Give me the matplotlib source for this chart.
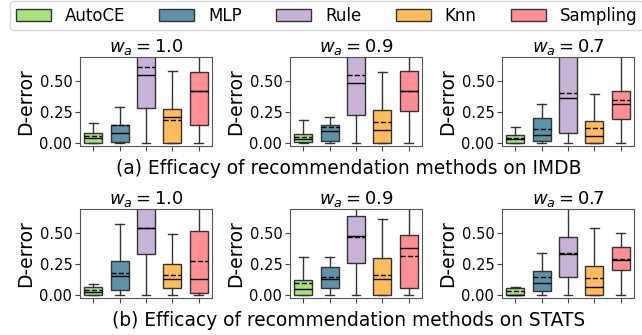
import matplotlib.pyplot as plt
from matplotlib.patches import Patch

methods = ["AutoCE", "MLP", "Rule", "Knn", "Sampling"]
colors = ["#a8e07c", "#5e92a8", "#c8b2d6", "#ffbb5c", "#ff8f94"]
weights = ["1.0", "0.9", "0.7"]

# per panel, per method: (whislo, q1, med, mean, q3, whishi)
imdb_10 = [(0, 0.0, 0.04, 0.05, 0.075, 0.16), (0, 0.005, 0.08, 0.145, 0.14, 0.29),
           (0, 0.28, 0.55, 0.61, 0.85, 1.0), (0, 0.0, 0.21, 0.185, 0.27, 0.585),
           (0, 0.145, 0.42, 0.42, 0.57, 0.95)]
imdb_09 = [(0, 0.005, 0.03, 0.045, 0.07, 0.18), (0, 0.015, 0.09, 0.13, 0.145, 0.205),
           (0, 0.22, 0.485, 0.545, 0.85, 1.0), (0, 0.0, 0.105, 0.17, 0.265, 0.575),
           (0, 0.26, 0.415, 0.415, 0.58, 0.95)]
imdb_07 = [(0, 0.0, 0.03, 0.035, 0.065, 0.125), (0, 0.015, 0.065, 0.11, 0.2, 0.31),
           (0, 0.075, 0.36, 0.405, 0.8, 1.0), (0, 0.0, 0.055, 0.115, 0.175, 0.395),
           (0, 0.195, 0.31, 0.345, 0.42, 0.9)]
stats_10 = [(0, 0.0, 0.02, 0.04, 0.065, 0.085), (0, 0.035, 0.15, 0.175, 0.27, 0.57),
            (0, 0.33, 0.54, 0.54, 0.85, 1.0), (0, 0.055, 0.13, 0.155, 0.245, 0.49),
            (0, 0.015, 0.125, 0.27, 0.52, 0.95)]
stats_09 = [(0, 0.0, 0.045, 0.09, 0.12, 0.305), (0, 0.05, 0.13, 0.145, 0.22, 0.305),
            (0, 0.26, 0.475, 0.47, 0.64, 0.95), (0, 0.0, 0.125, 0.16, 0.295, 0.61),
            (0, 0.055, 0.375, 0.315, 0.48, 0.95)]
stats_07 = [(0, 0.0, 0.0, 0.03, 0.05, 0.06), (0, 0.025, 0.09, 0.14, 0.19, 0.34),
            (0, 0.14, 0.33, 0.34, 0.47, 0.95), (0, 0.0, 0.065, 0.135, 0.23, 0.54),
            (0, 0.2, 0.28, 0.285, 0.39, 0.5)]

rows = [[imdb_10, imdb_09, imdb_07], [stats_10, stats_09, stats_07]]
captions = ["(a) Efficacy of recommendation methods on IMDB",
            "(b) Efficacy of recommendation methods on STATS"]

W, H = 642, 335
fig = plt.figure(figsize=(W / 100, H / 100), dpi=100)

lefts = [80, 290, 502]
tops = [57, 209]
aw, ah = 132, 89

for r, row in enumerate(rows):
    for c, panel in enumerate(row):
        ax = fig.add_axes([lefts[c] / W, (H - tops[r] - ah) / H, aw / W, ah / H])
        bstats = []
        for name, (lo, q1, med, mean, q3, hi) in zip(methods, panel):
            bstats.append(dict(label=name, whislo=lo, q1=q1, med=med, mean=mean,
                               q3=q3, whishi=hi, fliers=[]))
        bp = ax.bxp(bstats, widths=0.68, patch_artist=True, showmeans=True,
                    meanline=True, showfliers=False,
                    boxprops=dict(edgecolor="#333333", linewidth=1.0),
                    whiskerprops=dict(color="#333333", linewidth=1.0),
                    capprops=dict(color="#333333", linewidth=1.0),
                    medianprops=dict(color="black", linewidth=1.0),
                    meanprops=dict(color="black", linestyle="--", linewidth=1.0))
        for patch, col in zip(bp["boxes"], colors):
            patch.set_facecolor(col)
        ax.set_ylim(-0.028, 0.695)
        ax.set_xlim(0.5, 5.5)
        ax.set_yticks([0.0, 0.25, 0.5])
        ax.set_yticklabels(["0.00", "0.25", "0.50"])
        ax.set_xticklabels([])
        ax.tick_params(labelsize=10.5, length=3.5, color="#444444", pad=2)
        for s in ax.spines.values():
            s.set_color("#555555")
        ax.set_title(r"$w_a = %s$" % weights[c], fontsize=13, pad=3)
        ax.set_ylabel("D-error", fontsize=13.5, labelpad=3)
    fig.text(349 / W, 1 - (tops[r] + ah + 22) / H, captions[r], ha="center",
             va="center", fontsize=13.4)

handles = [Patch(facecolor=col, edgecolor="#333333", label=m)
           for m, col in zip(methods, colors)]
fig.legend(handles=handles, loc="upper left", bbox_to_anchor=(10 / W, 0.998),
           ncol=5, fontsize=12, frameon=True, handlelength=2.1,
           handleheight=0.72, columnspacing=2.05, borderpad=0.35,
           handletextpad=0.84, borderaxespad=0.0)

fig.savefig("out.png", dpi=100)
